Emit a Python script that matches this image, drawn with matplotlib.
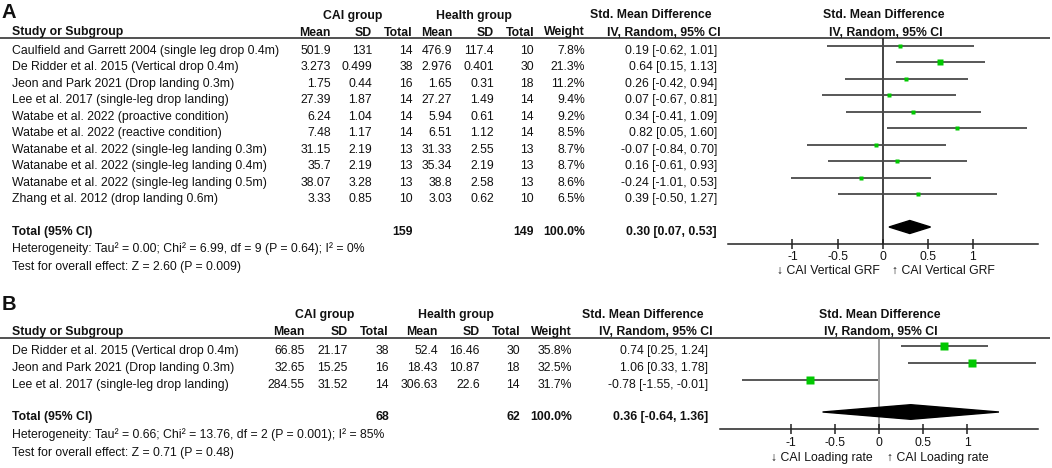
import matplotlib
matplotlib.use('Agg')
import matplotlib.pyplot as plt
from matplotlib.patches import Polygon
import numpy as np

plt.rcParams['font.family'] = ['Liberation Sans', 'DejaVu Sans']
plt.rcParams['axes.unicode_minus'] = False

W, H = 1052, 468
FS = 8.8
GREEN = '#00c800'

# ---------------- Panel A data ----------------
a_studies = [
    "Caulfield and Garrett 2004 (single leg drop 0.4m)",
    "De Ridder et al. 2015 (Vertical drop 0.4m)",
    "Jeon and Park 2021 (Drop landing 0.3m)",
    "Lee et al. 2017 (single-leg drop landing)",
    "Watabe et al. 2022 (proactive condition)",
    "Watabe et al. 2022 (reactive condition)",
    "Watanabe et al. 2022 (single-leg landing 0.3m)",
    "Watanabe et al. 2022 (single-leg landing 0.4m)",
    "Watanabe et al. 2022 (single-leg landing 0.5m)",
    "Zhang et al. 2012 (drop landing 0.6m)",
]
a_cai_mean = [501.9, 3.273, 1.75, 27.39, 6.24, 7.48, 31.15, 35.7, 38.07, 3.33]
a_cai_sd = [131, 0.499, 0.44, 1.87, 1.04, 1.17, 2.19, 2.19, 3.28, 0.85]
a_cai_n = [14, 38, 16, 14, 14, 14, 13, 13, 13, 10]
a_h_mean = [476.9, 2.976, 1.65, 27.27, 5.94, 6.51, 31.33, 35.34, 38.8, 3.03]
a_h_sd = [117.4, 0.401, 0.31, 1.49, 0.61, 1.12, 2.55, 2.19, 2.58, 0.62]
a_h_n = [10, 30, 18, 14, 14, 14, 13, 13, 13, 10]
a_weight = [7.8, 21.3, 11.2, 9.4, 9.2, 8.5, 8.7, 8.7, 8.6, 6.5]
a_smd = [0.19, 0.64, 0.26, 0.07, 0.34, 0.82, -0.07, 0.16, -0.24, 0.39]
a_lo = [-0.62, 0.15, -0.42, -0.67, -0.41, 0.05, -0.84, -0.61, -1.01, -0.50]
a_hi = [1.01, 1.13, 0.94, 0.81, 1.09, 1.60, 0.70, 0.93, 0.53, 1.27]
a_total = {"cai_n": 159, "h_n": 149, "weight": 100.0, "smd": 0.30, "lo": 0.07, "hi": 0.53}
a_het = "Heterogeneity: Tau\u00b2 = 0.00; Chi\u00b2 = 6.99, df = 9 (P = 0.64); I\u00b2 = 0%"
a_test = "Test for overall effect: Z = 2.60 (P = 0.009)"
a_left_lab = "\u2193 CAI Vertical GRF"
a_right_lab = "\u2191 CAI Vertical GRF"

# ---------------- Panel B data ----------------
b_studies = [
    "De Ridder et al. 2015 (Vertical drop 0.4m)",
    "Jeon and Park 2021 (Drop landing 0.3m)",
    "Lee et al. 2017 (single-leg drop landing)",
]
b_cai_mean = [66.85, 32.65, 284.55]
b_cai_sd = [21.17, 15.25, 31.52]
b_cai_n = [38, 16, 14]
b_h_mean = [52.4, 18.43, 306.63]
b_h_sd = [16.46, 10.87, 22.6]
b_h_n = [30, 18, 14]
b_weight = [35.8, 32.5, 31.7]
b_smd = [0.74, 1.06, -0.78]
b_lo = [0.25, 0.33, -1.55]
b_hi = [1.24, 1.78, -0.01]
b_total = {"cai_n": 68, "h_n": 62, "weight": 100.0, "smd": 0.36, "lo": -0.64, "hi": 1.36}
b_het = "Heterogeneity: Tau\u00b2 = 0.66; Chi\u00b2 = 13.76, df = 2 (P = 0.001); I\u00b2 = 85%"
b_test = "Test for overall effect: Z = 0.71 (P = 0.48)"
b_left_lab = "\u2193 CAI Loading rate"
b_right_lab = "\u2191 CAI Loading rate"

ticks = [-1, -0.5, 0, 0.5, 1]
tick_labels = ["-1", "-0.5", "0", "0.5", "1"]

fig = plt.figure(figsize=(W / 100, H / 100), dpi=100)
ov = fig.add_axes([0, 0, 1, 1])
ov.set_xlim(0, W)
ov.set_ylim(H, 0)
ov.axis('off')


def px_axes(l, t, r, b):
    return fig.add_axes([l / W, 1 - b / H, (r - l) / W, (b - t) / H])


def fmt_num(v):
    return f"{v:g}"


def T(x, y, s, ha='right', bold=False, size=FS):
    ov.text(x, y, s, ha=ha, va='center', fontsize=size,
            fontweight='bold' if bold else 'normal', color='#111111')


def panel(cfg, studies, cm, cs, cn, hm, hs, hn, wt, smd, lo, hi, tot, het, test, llab, rlab):
    c = cfg
    # letter
    T(2, c['letter_y'], c['letter'], ha='left', bold=True, size=14.5)
    # header row 1
    T(c['cai_c'], c['h1'], "CAI group", ha='center', bold=True)
    T(c['hg_c'], c['h1'], "Health group", ha='center', bold=True)
    T(c['smd_r'], c['h1'], "Std. Mean Difference", ha='right', bold=True)
    T(c['f_c1'], c['h1'], "Std. Mean Difference", ha='center', bold=True)
    # header row 2
    cols = c['cols']
    T(12, c['h2'], "Study or Subgroup", ha='left', bold=True)
    for name, x in zip(["Mean", "SD", "Total", "Mean", "SD", "Total", "Weight"], cols[:7]):
        T(x, c['h2'], name, bold=True)
    T(c['ci_hr'], c['h2'], "IV, Random, 95% CI", bold=True)
    T(c['f_c2'], c['h2'], "IV, Random, 95% CI", ha='center', bold=True)
    ov.plot([0, 1050], [c['hline'], c['hline']], color='#222222', lw=1.1, solid_capstyle='butt')

    rows = [c['row0'] + c['step'] * i for i in range(len(studies))]
    off = 5
    for i, y in enumerate(rows):
        yt = y + off
        T(12, yt, studies[i], ha='left')
        vals = [fmt_num(cm[i]), fmt_num(cs[i]), str(cn[i]), fmt_num(hm[i]),
                fmt_num(hs[i]), str(hn[i]), f"{wt[i]:.1f}%"]
        for v, x in zip(vals, cols[:7]):
            T(x, yt, v)
        T(cols[7], yt, f"{smd[i]:.2f} [{lo[i]:.2f}, {hi[i]:.2f}]")
    ty = c['total_y'] + off
    T(12, ty, "Total (95% CI)", ha='left', bold=True)
    T(cols[2], ty, str(tot['cai_n']), bold=True)
    T(cols[5], ty, str(tot['h_n']), bold=True)
    T(cols[6], ty, f"{tot['weight']:.1f}%", bold=True)
    T(cols[7], ty, f"{tot['smd']:.2f} [{tot['lo']:.2f}, {tot['hi']:.2f}]", bold=True)
    T(12, c['het_y'], het, ha='left')
    T(12, c['test_y'], test, ha='left')

    # forest
    ax = px_axes(c['f_l'], c['hline'], c['f_r'], c['axis_y'])
    ax.set_facecolor('none')
    ax.set_xlim(*c['xlim'])
    ax.set_ylim(c['axis_y'], c['hline'])
    for s in ['top', 'left', 'right']:
        ax.spines[s].set_visible(False)
    ax.spines['bottom'].set_color('#222222')
    ax.spines['bottom'].set_linewidth(1.1)
    ax.set_yticks([])
    ax.set_xticks(ticks)
    ax.set_xticklabels(tick_labels)
    ax.tick_params(axis='x', direction='inout', length=7, width=1.1, pad=2.0,
                   labelsize=FS, colors='#222222', labelcolor='#111111')
    ax.axvline(0, color=c['zero_col'], lw=1.1, zorder=1)
    for i, y in enumerate(rows):
        ax.plot([lo[i], hi[i]], [y, y], color='#4a4a4a', lw=1.3, zorder=2,
                solid_capstyle='butt')
        side = c['msc'] * np.sqrt(wt[i]) * 0.72
        ax.plot([smd[i]], [y], 's', ms=side, color=GREEN, mec='none', zorder=3)
    dy = c['dia_h']
    yt = c['total_y']
    ax.add_patch(Polygon([(tot['lo'], yt), (tot['smd'], yt - dy), (tot['hi'], yt),
                          (tot['smd'], yt + dy)], closed=True, color='black', zorder=3))
    T(c['llab_r'], c['lab_y'], llab, ha='right')
    T(c['rlab_l'], c['lab_y'], rlab, ha='left')


cfgA = dict(letter='A', letter_y=12, h1=15.5, h2=32.5, hline=38,
            cai_c=352.5, hg_c=474, smd_r=712, f_c1=883.7, f_c2=886,
            cols=[331, 372, 413, 452, 494, 534, 585, 717], ci_hr=721,
            row0=45.7, step=16.5, total_y=227, het_y=248.3, test_y=266.7,
            f_l=728, f_r=1038, axis_y=243.7, xlim=(-1.713, 1.72),
            zero_col='#111111', msc=1.3, dia_h=6.5, llab_r=880, rlab_l=892, lab_y=270.7)

cfgB = dict(letter='B', letter_y=305, h1=315, h2=332.3, hline=338,
            cai_c=325, hg_c=455.5, smd_r=703, f_c1=879.5, f_c2=881,
            cols=[305, 348, 389, 437.7, 480, 520, 572, 708], ci_hr=713,
            row0=346, step=17, total_y=412, het_y=435, test_y=452.7,
            f_l=720, f_r=1038, axis_y=429.3, xlim=(-1.803, 1.803),
            zero_col='#808080', msc=1.35, dia_h=7.3, llab_r=873, rlab_l=887, lab_y=458.3)

panel(cfgA, a_studies, a_cai_mean, a_cai_sd, a_cai_n, a_h_mean, a_h_sd, a_h_n,
      a_weight, a_smd, a_lo, a_hi, a_total, a_het, a_test, a_left_lab, a_right_lab)
panel(cfgB, b_studies, b_cai_mean, b_cai_sd, b_cai_n, b_h_mean, b_h_sd, b_h_n,
      b_weight, b_smd, b_lo, b_hi, b_total, b_het, b_test, b_left_lab, b_right_lab)

fig.savefig('out.png', dpi=100)
